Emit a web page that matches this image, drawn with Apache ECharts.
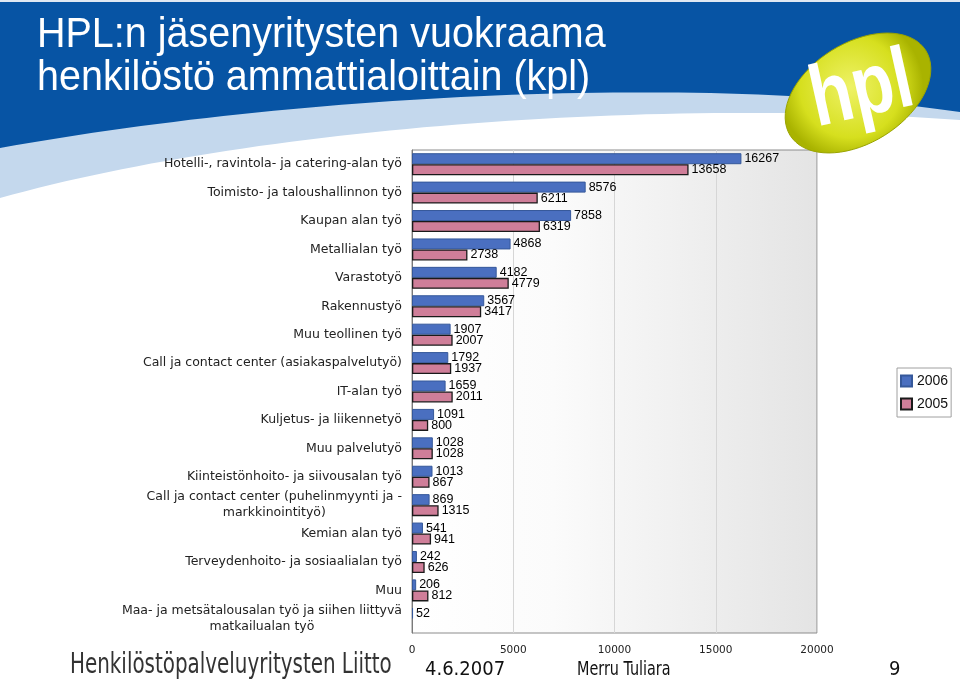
<!DOCTYPE html>
<html><head><meta charset="utf-8">
<script src="https://cdn.jsdelivr.net/npm/echarts@6/dist/echarts.min.js"></script>
<style>html,body{margin:0;padding:0;background:#fff}#c{width:960px;height:679px}</style>
</head><body><div id="c"></div>
<script>
const categories = [
  'Hotelli-, ravintola- ja catering-alan työ',
  'Toimisto- ja taloushallinnon työ',
  'Kaupan alan työ',
  'Metallialan työ',
  'Varastotyö',
  'Rakennustyö',
  'Muu teollinen työ',
  'Call ja contact center (asiakaspalvelutyö)',
  'IT-alan työ',
  'Kuljetus- ja liikennetyö',
  'Muu palvelutyö',
  'Kiinteistönhoito- ja siivousalan työ',
  'Call ja contact center (puhelinmyynti ja -\nmarkkinointityö)',
  'Kemian alan työ',
  'Terveydenhoito- ja sosiaalialan työ',
  'Muu',
  'Maa- ja metsätalousalan työ ja siihen liittyvä\nmatkailualan työ'
];
const seriesNames = ['2006', '2005'];
const values2006 = [16267, 8576, 7858, 4868, 4182, 3567, 1907, 1792, 1659, 1091, 1028, 1013, 869, 541, 242, 206, 52];
const values2005 = [13658, 6211, 6319, 2738, 4779, 3417, 2007, 1937, 2011, 800, 1028, 867, 1315, 941, 626, 812, null];
const xTickMin = 0, xTickMax = 20000, xTickStep = 5000;

const titleLines = ['HPL:n jäsenyritysten vuokraama', 'henkilöstö ammattialoittain (kpl)'];
const footerOrg = 'Henkilöstöpalveluyritysten Liitto';
const footerDate = '4.6.2007';
const footerAuthor = 'Merru Tuliara';
const footerPage = '9';

function cubicPts(p0, p1, p2, p3, n) {
  const pts = [];
  for (let i = 0; i <= n; i++) {
    const t = i / n, u = 1 - t;
    pts.push([
      u*u*u*p0[0] + 3*u*u*t*p1[0] + 3*u*t*t*p2[0] + t*t*t*p3[0],
      u*u*u*p0[1] + 3*u*u*t*p1[1] + 3*u*t*t*p2[1] + t*t*t*p3[1]
    ]);
  }
  return pts;
}
const blueEdge = cubicPts([0,148],[300,94],[700,74],[960,112], 60);
const bandEdge = cubicPts([0,198],[250,128],[650,98],[960,120], 60);
const bluePoly = [[0,0],[960,0]].concat(blueEdge.slice().reverse());
const bandPoly = [[0,0],[960,0]].concat(bandEdge.slice().reverse());

const egg = [];
(function(){
  const cx = 858, cy = 93, rx = 80, ry = 50, th = -32 * Math.PI / 180;
  for (let i = 0; i < 72; i++) {
    const t = i / 72 * Math.PI * 2;
    const ex = rx * Math.cos(t), ey = ry * Math.sin(t);
    egg.push([cx + ex*Math.cos(th) - ey*Math.sin(th), cy + ex*Math.sin(th) + ey*Math.cos(th)]);
  }
})();

const labelFont = 'DejaVu Sans';
const chart = echarts.init(document.getElementById('c'), null, {renderer: 'canvas'});
chart.setOption({
  animation: false,
  backgroundColor: '#ffffff',
  graphic: [
    {type: 'polygon', z: -10, shape: {points: bandPoly}, style: {fill: '#c4d8ed'}},
    {type: 'polygon', z: -9, shape: {points: bluePoly}, style: {fill: '#0754a4'}},
    {type: 'rect', z: -9, shape: {x: 0, y: 0, width: 960, height: 2}, style: {fill: '#dfe8f3'}},
    {type: 'text', z: 5, x: 37, y: 14, scaleY: 1.06, style: {text: titleLines[0], fill: '#ffffff', font: '39.5px "Liberation Sans", Arial, sans-serif'}},
    {type: 'text', z: 5, x: 37, y: 57, scaleY: 1.06, style: {text: titleLines[1], fill: '#ffffff', font: '39.5px "Liberation Sans", Arial, sans-serif'}},
    {type: 'polygon', z: 6, shape: {points: egg}, style: {
      fill: {type: 'radial', x: 0.45, y: 0.45, r: 0.6, colorStops: [
        {offset: 0, color: '#eef266'}, {offset: 0.7, color: '#d6df1e'}, {offset: 1, color: '#a9b300'}]},
      stroke: '#9aa400', lineWidth: 1}},
    {type: 'text', z: 7, x: 862, y: 92, rotation: 0.22, scaleX: 0.8, style: {
      text: 'hpl', fill: '#ffffff', align: 'center', verticalAlign: 'middle',
      font: 'bold 86px "Liberation Sans", Arial, sans-serif'}},
    {type: 'text', x: 70, y: 666, scaleX: 0.79, style: {text: footerOrg, fill: '#333333', verticalAlign: 'middle', font: '28px "DejaVu Sans Condensed", "Liberation Sans", sans-serif'}},
    {type: 'text', x: 425, y: 670, style: {text: footerDate, fill: '#111111', verticalAlign: 'middle', font: '20px "DejaVu Sans Condensed", "Liberation Sans", sans-serif'}},
    {type: 'text', x: 577, y: 670, scaleX: 0.8, style: {text: footerAuthor, fill: '#111111', verticalAlign: 'middle', font: '20px "DejaVu Sans Condensed", "Liberation Sans", sans-serif'}},
    {type: 'text', x: 889, y: 670, style: {text: footerPage, fill: '#111111', verticalAlign: 'middle', font: '20px "DejaVu Sans Condensed", "Liberation Sans", sans-serif'}}
  ],
  legend: {
    orient: 'vertical', left: 897, top: 368,
    data: seriesNames,
    backgroundColor: '#ffffff', borderColor: '#a0a0a0', borderWidth: 1,
    padding: [6, 3, 6, 3], itemGap: 9, itemWidth: 11, itemHeight: 11,
    icon: 'rect',
    textStyle: {fontFamily: '"Liberation Sans", Arial', fontSize: 14, color: '#111'}
  },
  grid: {
    left: 412, top: 150, width: 405, height: 483,
    show: true, borderColor: '#8c8c8c', borderWidth: 1,
    backgroundColor: {type: 'linear', x: 0, y: 0, x2: 1, y2: 0, colorStops: [
      {offset: 0, color: '#ffffff'}, {offset: 0.35, color: '#fbfbfb'}, {offset: 1, color: '#e4e4e4'}]}
  },
  xAxis: {
    type: 'value', min: xTickMin, max: xTickMax, interval: xTickStep,
    axisLine: {show: false}, axisTick: {show: false},
    splitLine: {show: true, lineStyle: {color: '#d6d6d6', width: 1}},
    axisLabel: {margin: 12, color: '#222', fontFamily: labelFont, fontSize: 10.5, formatter: function (v) { return String(v); }}
  },
  yAxis: {
    type: 'category', inverse: true, data: categories,
    axisLine: {show: true, lineStyle: {color: '#7a7a7a'}},
    axisTick: {show: false},
    axisLabel: {
      margin: 10, color: '#222', fontFamily: labelFont, fontSize: 12.5, lineHeight: 16, align: 'right',
      formatter: function (v) {
        if (v.indexOf('\n') >= 0) {
          const p = v.split('\n');
          return '{a|' + p[0] + '}\n{b|' + p[1] + '}';
        }
        return v;
      },
      rich: {
        a: {fontFamily: labelFont, fontSize: 12.5, lineHeight: 16, color: '#222', align: 'right'},
        b: {fontFamily: labelFont, fontSize: 12.5, lineHeight: 16, color: '#222', align: 'center'}
      }
    }
  },
  series: [
    {
      name: seriesNames[0], type: 'bar', data: values2006, barWidth: 11, barGap: '0%',
      itemStyle: {color: '#4a6fc0', borderColor: '#35589a', borderWidth: 1},
      label: {show: true, position: 'right', distance: 3, color: '#000', fontFamily: '"Liberation Sans", Arial', fontSize: 12.5}
    },
    {
      name: seriesNames[1], type: 'bar', data: values2005, barWidth: 11, barGap: '0%',
      itemStyle: {color: '#cf7e99', borderColor: '#1a1a1a', borderWidth: 1.3},
      label: {show: true, position: 'right', distance: 3, color: '#000', fontFamily: '"Liberation Sans", Arial', fontSize: 12.5}
    }
  ]
});
</script>
</body></html>
